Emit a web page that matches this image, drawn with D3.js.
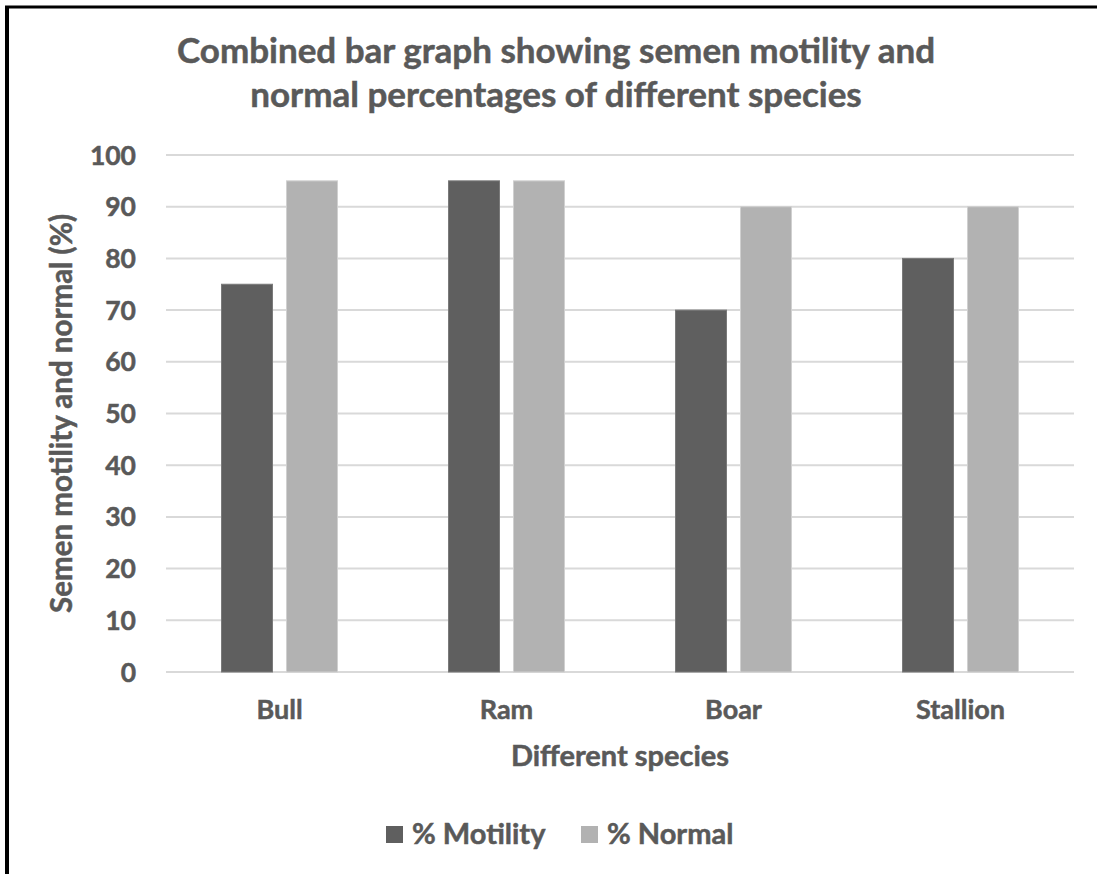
<!DOCTYPE html>
<html>
<head>
<meta charset="utf-8">
<script src="https://cdn.jsdelivr.net/npm/d3@7"></script>
<style>
  body { margin: 0; background: #fff; }
  svg text { font-family: Lato, "Open Sans", sans-serif; font-weight: bold; fill: #595959;
             stroke: #595959; stroke-width: 0.5px; }
</style>
</head>
<body>
<svg id="chart" width="1097" height="874"></svg>
<script>
// data
const species = ["Bull", "Ram", "Boar", "Stallion"];
const motility = [75, 95, 70, 80];
const normal = [95, 95, 90, 90];
const seriesNames = ["% Motility", "% Normal"];
const seriesColors = ["#5f5f5f", "#b2b2b2"];
const yTicks = [0, 10, 20, 30, 40, 50, 60, 70, 80, 90, 100];

const svg = d3.select("#chart");

// frame: only left + top edges show in the reference
svg.append("line").attr("x1", 7).attr("x2", 7).attr("y1", 6).attr("y2", 874)
  .attr("stroke", "#000").attr("stroke-width", 4);
svg.append("line").attr("x1", 5).attr("x2", 1097).attr("y1", 7).attr("y2", 7)
  .attr("stroke", "#000").attr("stroke-width", 3);

const plot = { left: 166, right: 1074, top: 155, bottom: 672 };

const x = d3.scaleBand().domain(species).range([plot.left, plot.right]);
const y = d3.scaleLinear().domain([0, 100]).range([plot.bottom, plot.top]);

// ── gridlines ──
svg.append("g").selectAll("line").data(yTicks).join("line")
  .attr("x1", plot.left).attr("x2", plot.right)
  .attr("y1", d => y(d)).attr("y2", d => y(d))
  .attr("stroke", "#d9d9d9").attr("stroke-width", 2);

// ── y tick labels ──
svg.append("g").selectAll("text").data(yTicks).join("text")
  .attr("x", 136).attr("y", d => y(d)).attr("dy", "0.36em")
  .attr("text-anchor", "end").attr("font-size", 26.5)
  .text(d => d);

// ── bars ──
const barW = 51, gap = 14;
const rows = species.map((s, i) => ({ s, vals: [motility[i], normal[i]] }));
rows.forEach(r => {
  const cx = x(r.s) + x.bandwidth() / 2;
  r.vals.forEach((v, j) => {
    const bx = j === 0 ? cx - gap / 2 - barW : cx + gap / 2;
    svg.append("rect")
      .attr("x", bx).attr("y", y(v))
      .attr("width", barW).attr("height", y(0) - y(v))
      .attr("fill", seriesColors[j])
      .attr("stroke", j === 0 ? "#7a7a7a" : "#d0d0d0").attr("stroke-width", 1);
  });
});

// ── category labels ──
svg.append("g").selectAll("text").data(species).join("text")
  .attr("x", d => x(d) + x.bandwidth() / 2).attr("y", 719)
  .attr("text-anchor", "middle").attr("font-size", 27)
  .text(d => d);

// ── axis titles ──
svg.append("text").attr("x", (plot.left + plot.right) / 2).attr("y", 766)
  .attr("text-anchor", "middle").attr("font-size", 29).text("Different species");
svg.append("text")
  .attr("transform", `translate(72,${(plot.top + plot.bottom) / 2}) rotate(-90)`)
  .attr("text-anchor", "middle").attr("font-size", 29.5)
  .text("Semen motility and normal (%)");

// ── title ──
const title = ["Combined bar graph showing semen motility and", "normal percentages of different species"];
svg.append("g").selectAll("text").data(title).join("text")
  .attr("x", 556).attr("y", (d, i) => 63 + i * 44)
  .attr("text-anchor", "middle").attr("font-size", 35)
  .text(d => d);

// ── legend ──
const legend = svg.append("g");
const legendX = [386, 581];
seriesNames.forEach((name, i) => {
  legend.append("rect").attr("x", legendX[i]).attr("y", 826)
    .attr("width", 17).attr("height", 17).attr("fill", seriesColors[i]);
  legend.append("text").attr("x", legendX[i] + 26).attr("y", 844)
    .attr("font-size", 29).text(name);
});
</script>
</body>
</html>
